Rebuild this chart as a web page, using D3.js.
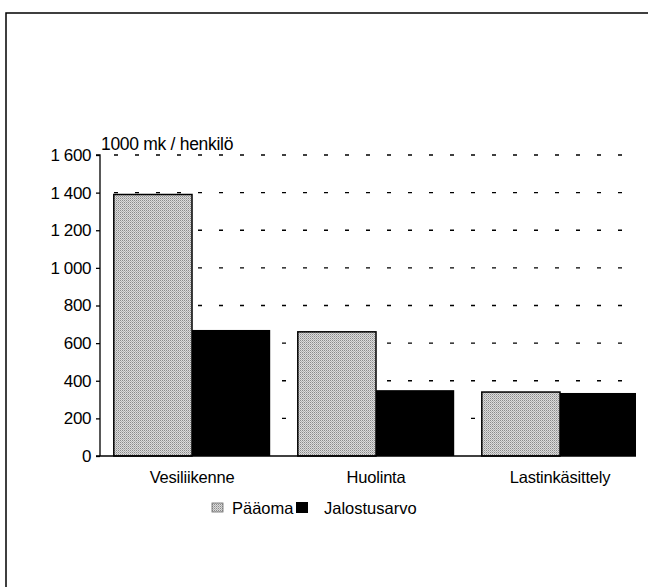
<!DOCTYPE html>
<html><head><meta charset="utf-8">
<script src="https://cdn.jsdelivr.net/npm/d3@7"></script>
<style>html,body{margin:0;background:#fff;overflow:hidden}svg{display:block}text{font-family:"Liberation Sans",Arial,sans-serif;fill:#000}</style>
</head><body>
<script>
const categories = ["Vesiliikenne", "Huolinta", "Lastinkäsittely"];
const seriesNames = ["Pääoma", "Jalostusarvo"];
const paaoma = [1390, 660, 340];
const jalostusarvo = [670, 350, 335];
const yTicks = [0, 200, 400, 600, 800, 1000, 1200, 1400, 1600];
const yTickLabels = ["0", "200", "400", "600", "800", "1 000", "1 200", "1 400", "1 600"];
const yTitle = "1000 mk / henkilö";

const W = 648, H = 587;
const svg = d3.select("body").append("svg").attr("width", W).attr("height", H);

const defs = svg.append("defs");
const pat = defs.append("pattern").attr("id", "dots").attr("patternUnits", "userSpaceOnUse")
  .attr("width", 2).attr("height", 2);
pat.append("rect").attr("width", 2).attr("height", 2).attr("fill", "#dcdcdc");
pat.append("rect").attr("x", 0).attr("y", 0).attr("width", 1).attr("height", 1).attr("fill", "#8a8a8a");
pat.append("rect").attr("x", 1).attr("y", 1).attr("width", 1).attr("height", 1).attr("fill", "#b0b0b0");

// frame
svg.append("path").attr("d", `M6,${H+2} L6,13 L${W+2},13`).attr("fill", "none")
  .attr("stroke", "#000").attr("stroke-width", 1.5);

const x0 = d3.scaleBand().domain(categories).range([100, 652]).paddingInner(0.15).paddingOuter(0.075);
const x1 = d3.scaleBand().domain(seriesNames).range([0, x0.bandwidth()]);
const y = d3.scaleLinear().domain([0, 1600]).range([456, 155]);

const plotRight = 636;
// gridlines
svg.append("g").selectAll("line").data(yTicks.slice(1)).join("line")
  .attr("x1", 100).attr("x2", plotRight).attr("y1", d => y(d)).attr("y2", d => y(d))
  .attr("stroke", "#000").attr("stroke-width", 1.3).attr("stroke-dasharray", "4,17")
  .attr("stroke-dashoffset", -14);

// bars
const g = svg.append("g");
categories.forEach((c, i) => {
  g.append("rect").attr("x", x0(c) + x1("Pääoma")).attr("y", y(paaoma[i]))
    .attr("width", x1.bandwidth()).attr("height", y(0) - y(paaoma[i]))
    .attr("fill", "url(#dots)").attr("stroke", "#000").attr("stroke-width", 1.5);
  g.append("rect").attr("x", x0(c) + x1("Jalostusarvo")).attr("y", y(jalostusarvo[i]))
    .attr("width", Math.min(x1.bandwidth(), plotRight - (x0(c) + x1("Jalostusarvo")))).attr("height", y(0) - y(jalostusarvo[i]))
    .attr("fill", "#000");
});

// y axis
const yAxis = d3.axisLeft(y).tickValues(yTicks).tickFormat((d, i) => yTickLabels[i]).tickSize(4).tickPadding(5);
const ya = svg.append("g").attr("transform", "translate(100,0)").call(yAxis);
ya.select(".domain").attr("d", `M-4,${y(1600)}H0V${y(0)}`).attr("stroke-width", 1.3);
ya.selectAll(".tick line").attr("stroke-width", 1.3);
ya.selectAll("text").attr("font-size", 17).attr("font-family", "Liberation Sans, Arial, sans-serif").style("letter-spacing", "-0.4px");

// baseline
svg.append("line").attr("x1", 96).attr("x2", plotRight).attr("y1", y(0)).attr("y2", y(0))
  .attr("stroke", "#000").attr("stroke-width", 1.5);

// category labels
const xAxis = d3.axisBottom(x0).tickSize(0).tickPadding(15);
const xa = svg.append("g").attr("transform", `translate(0,${y(0)})`).call(xAxis);
xa.select(".domain").remove();
xa.selectAll("text").attr("font-size", 16.5).attr("font-family", "Liberation Sans, Arial, sans-serif").style("letter-spacing", "-0.2px");

// title
svg.append("text").attr("x", 101).attr("y", 150).attr("font-size", 17.5).style("letter-spacing", "-0.3px").text(yTitle);

// legend
const leg = svg.append("g").attr("transform", "translate(212,502)");
leg.append("rect").attr("x", 0).attr("y", 1).attr("width", 11).attr("height", 9)
  .attr("fill", "url(#dots)").attr("stroke", "#666").attr("stroke-width", 0.8);
leg.append("text").attr("x", 20).attr("y", 12).attr("font-size", 16.5).text(seriesNames[0]);
leg.append("rect").attr("x", 84).attr("y", 0).attr("width", 12).attr("height", 11).attr("fill", "#000");
leg.append("text").attr("x", 112).attr("y", 12).attr("font-size", 16.5).text(seriesNames[1]);
</script>
</body></html>
